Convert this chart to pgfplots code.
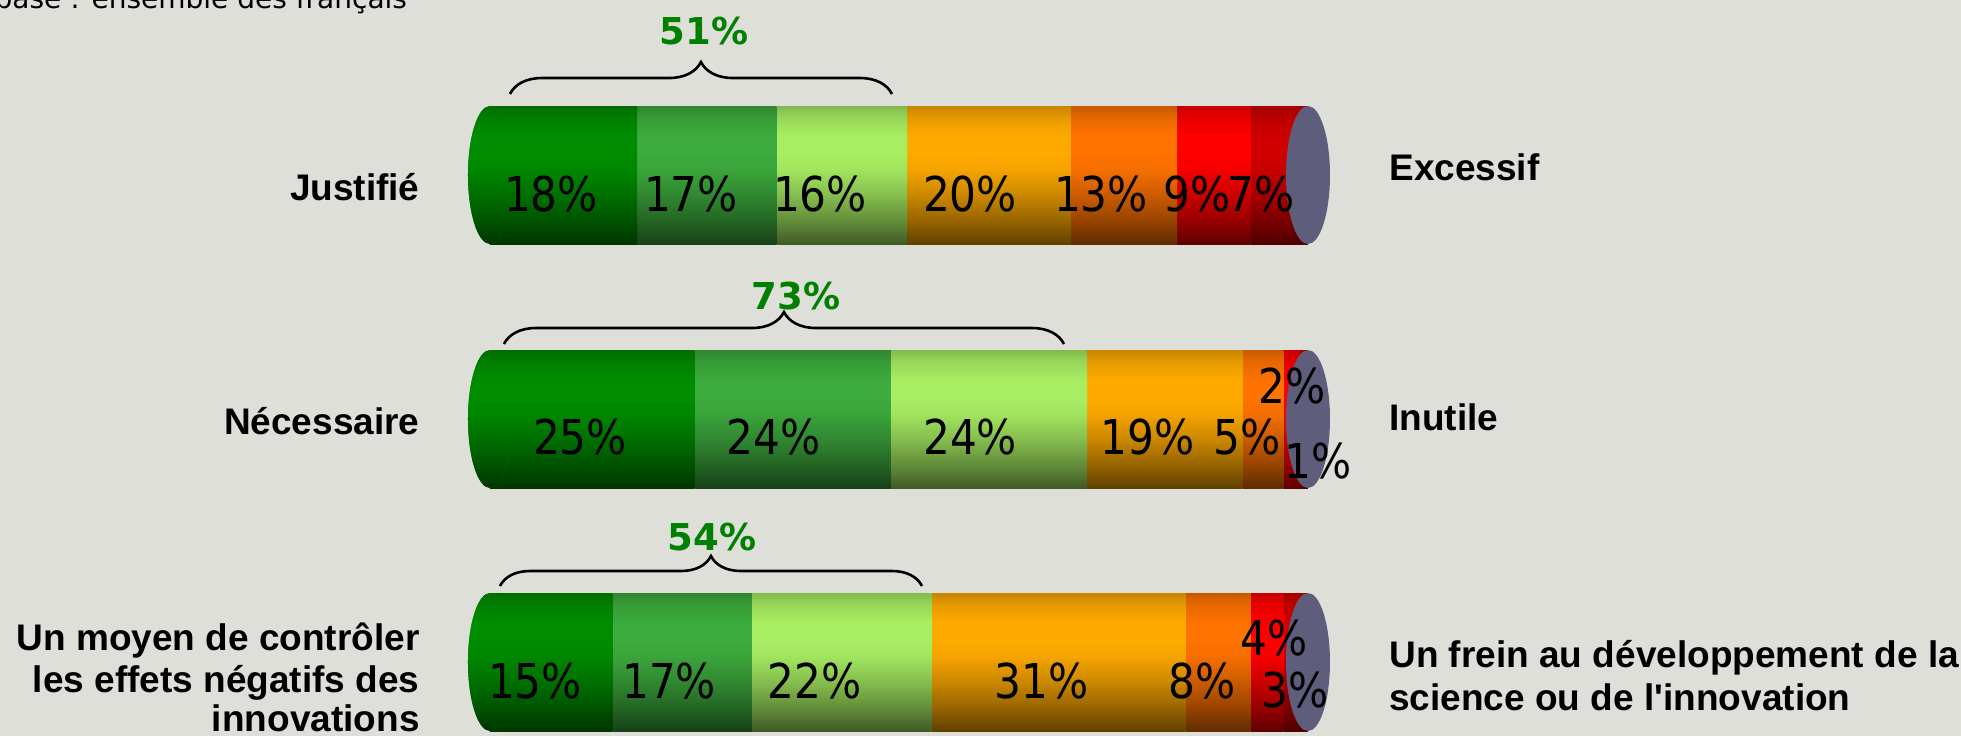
\documentclass[border=0pt]{standalone}
\usepackage{fontspec}
\setmainfont{Liberation Sans}[Ligatures=TeXOff]
\newfontfamily\dejavu{DejaVu Sans}
\newfontfamily\dejavuN{DejaVu Sans}[FakeStretch=0.88]
\usepackage{pgfplots}
\pgfplotsset{compat=1.18}
\usetikzlibrary{decorations.pathreplacing}
\definecolor{bg}{HTML}{DFDFD9}
\definecolor{ca}{HTML}{008C00}
\definecolor{cb}{HTML}{3DAB3D}
\definecolor{cc}{HTML}{A8EE62}
\definecolor{cd}{HTML}{FFAA00}
\definecolor{ce}{HTML}{FF7300}
\definecolor{cf}{HTML}{FF0000}
\definecolor{cg}{HTML}{D00000}
\definecolor{capgray}{HTML}{5E5E7C}
\definecolor{grn}{HTML}{008000}
\newcommand\mkshade[1]{%
  \pgfdeclareverticalshading{sh#1}{100bp}{%
    color(0bp)=(#1!38!black); color(25bp)=(#1!38!black);
    color(33bp)=(#1!58!black); color(43bp)=(#1!80!black);
    color(52bp)=(#1!96!black); color(58bp)=(#1); color(64bp)=(#1);
    color(71bp)=(#1!90!black); color(75bp)=(#1!78!black);
    color(100bp)=(#1!78!black)}}
\mkshade{ca}\mkshade{cb}\mkshade{cc}\mkshade{cd}\mkshade{ce}\mkshade{cf}\mkshade{cg}
\newcommand\lab{\dejavuN\fontsize{24}{28}\selectfont}
\newcommand\cat{\bfseries\fontsize{18.5}{22}\selectfont}
\newcommand\grnf{\dejavu\bfseries\fontsize{18.5}{22}\selectfont}
\tikzset{cyl/.style={draw=none, fill=#1, shade, shading=sh#1}}
\pgfplotsset{
  base/.style={scale only axis, width=980.5pt, xmin=-59.90, xmax=179.83,
    axis line style={draw=none}, ticks=none, clip=false},
  full/.style={base, height=368pt, ymin=0, ymax=736, y dir=reverse},
  row/.style={base, height=69pt, ymin=-1, ymax=1, anchor=west,
    xbar stacked, bar width=69pt},
}
\begin{document}
\begin{tikzpicture}
% background
\begin{axis}[full, axis background/.style={fill=bg}]
\coordinate (bl) at (rel axis cs:0,1);
\coordinate (tr) at (rel axis cs:1,0);
\coordinate (r1) at (axis cs:-59.90,175);
\coordinate (r2) at (axis cs:-59.90,419);
\coordinate (r3) at (axis cs:-59.90,662);
\end{axis}
% row 1: Justifié / Excessif
\begin{axis}[row, at={(r1)}]
\fill[cyl=ca] (axis cs:0,0) ellipse [x radius=11pt, y radius=34.5pt];
\addplot[cyl=ca] coordinates {(18,0)};
\addplot[cyl=cb] coordinates {(17,0)};
\addplot[cyl=cc] coordinates {(16,0)};
\addplot[cyl=cd] coordinates {(20,0)};
\addplot[cyl=ce] coordinates {(13,0)};
\addplot[cyl=cf] coordinates {(9,0)};
\addplot[cyl=cg] coordinates {(7,0)};
\end{axis}
% row 2: Nécessaire / Inutile
\begin{axis}[row, at={(r2)}]
\fill[cyl=ca] (axis cs:0,0) ellipse [x radius=11pt, y radius=34.5pt];
\addplot[cyl=ca] coordinates {(25,0)};
\addplot[cyl=cb] coordinates {(24,0)};
\addplot[cyl=cc] coordinates {(24,0)};
\addplot[cyl=cd] coordinates {(19,0)};
\addplot[cyl=ce] coordinates {(5,0)};
\addplot[cyl=cf] coordinates {(2,0)};
\addplot[cyl=cg] coordinates {(1,0)};
\end{axis}
% row 3: contrôler / frein
\begin{axis}[row, at={(r3)}]
\fill[cyl=ca] (axis cs:0,0) ellipse [x radius=11pt, y radius=34.5pt];
\addplot[cyl=ca] coordinates {(15,0)};
\addplot[cyl=cb] coordinates {(17,0)};
\addplot[cyl=cc] coordinates {(22,0)};
\addplot[cyl=cd] coordinates {(31,0)};
\addplot[cyl=ce] coordinates {(8,0)};
\addplot[cyl=cf] coordinates {(4,0)};
\addplot[cyl=cg] coordinates {(3,0)};
\end{axis}
% overlay: end caps, labels, braces
\begin{axis}[full]
\fill[capgray] (axis cs:100,175) ellipse [x radius=11pt, y radius=34.5pt];
\fill[capgray] (axis cs:100,419) ellipse [x radius=11pt, y radius=34.5pt];
\fill[capgray] (axis cs:100,662) ellipse [x radius=11pt, y radius=34.5pt];
% value labels
\node[font=\lab] at (axis cs:7.46,194) {18\%};
\node[font=\lab] at (axis cs:24.57,194) {17\%};
\node[font=\lab] at (axis cs:40.34,194) {16\%};
\node[font=\lab] at (axis cs:58.68,194) {20\%};
\node[font=\lab] at (axis cs:74.69,194) {13\%};
\node[font=\lab] at (axis cs:86.43,194) {9\%};
\node[font=\lab] at (axis cs:94.25,194) {7\%};
\node[font=\lab] at (axis cs:11.0,437) {25\%};
\node[font=\lab] at (axis cs:34.7,437) {24\%};
\node[font=\lab] at (axis cs:58.7,437) {24\%};
\node[font=\lab] at (axis cs:80.4,437) {19\%};
\node[font=\lab] at (axis cs:92.54,437) {5\%};
\node[font=\lab] at (axis cs:98.04,386) {2\%};
\node[font=\lab] at (axis cs:101.22,461) {1\%};
\node[font=\lab] at (axis cs:5.5,681) {15\%};
\node[font=\lab] at (axis cs:21.9,681) {17\%};
\node[font=\lab] at (axis cs:39.7,681) {22\%};
\node[font=\lab] at (axis cs:67.4,681) {31\%};
\node[font=\lab] at (axis cs:87.0,681) {8\%};
\node[font=\lab] at (axis cs:95.8,638) {4\%};
\node[font=\lab] at (axis cs:98.4,690) {3\%};
% braces and totals
\draw[line width=1.3pt, decorate, decoration={brace, amplitude=16pt}] (axis cs:2.44,94) -- (axis cs:49.14,94);
\draw[line width=1.3pt, decorate, decoration={brace, amplitude=16pt}] (axis cs:1.71,344) -- (axis cs:70.17,344);
\draw[line width=1.3pt, decorate, decoration={brace, amplitude=15pt}] (axis cs:1.22,586) -- (axis cs:52.81,586);
\node[font=\grnf, text=grn] at (axis cs:26.16,31) {51\%};
\node[font=\grnf, text=grn] at (axis cs:37.41,296) {73\%};
\node[font=\grnf, text=grn] at (axis cs:27.14,537) {54\%};
% category labels (one node per line, at its baseline)
\node[font=\cat, anchor=base east, inner sep=0pt] at (axis cs:-8.56,200) {Justifié};
\node[font=\cat, anchor=base east, inner sep=0pt] at (axis cs:-8.56,434) {Nécessaire};
\node[font=\cat, anchor=base east, inner sep=0pt] at (axis cs:-8.56,650) {Un moyen de contrôler};
\node[font=\cat, anchor=base east, inner sep=0pt] at (axis cs:-8.56,692) {les effets négatifs des};
\node[font=\cat, anchor=base east, inner sep=0pt] at (axis cs:-8.56,731) {innovations};
\node[font=\cat, anchor=base west, inner sep=0pt] at (axis cs:109.9,180) {Excessif};
\node[font=\cat, anchor=base west, inner sep=0pt] at (axis cs:109.9,430) {Inutile};
\node[font=\cat, anchor=base west, inner sep=0pt] at (axis cs:109.9,667) {Un frein au développement de la};
\node[font=\cat, anchor=base west, inner sep=0pt] at (axis cs:109.9,710) {science ou de l'innovation};
% top note, cut by the page edge
\node[anchor=base west, inner sep=0pt, font=\dejavu\fontsize{14}{16}\selectfont] at (axis cs:-60.6,8) {base : ensemble des français};
\end{axis}
\pgfresetboundingbox
\path[use as bounding box] (bl) rectangle (tr);
\end{tikzpicture}
\end{document}
